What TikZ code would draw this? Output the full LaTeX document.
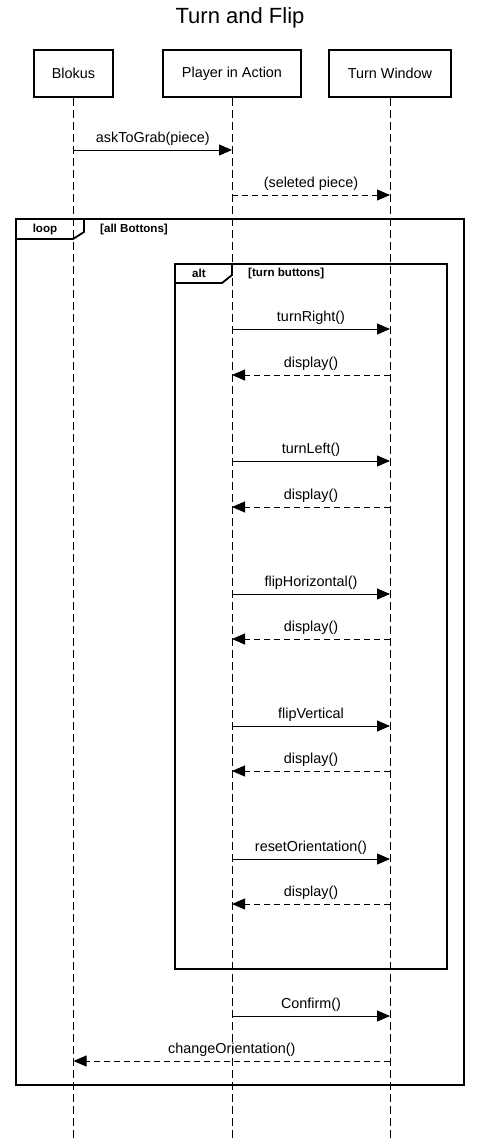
\documentclass[tikz,border=0pt]{standalone}
\usepackage{fontspec}
\setmainfont{Liberation Sans}
\usetikzlibrary{arrows.meta}
\begin{document}
\begin{tikzpicture}[x=1pt,y=-1pt,
  actor/.style={draw,line width=1.8pt,minimum width=#1,minimum height=47pt,inner sep=0pt,font=\fontsize{14.4}{16}\selectfont},
  lifeline/.style={line width=0.9pt,dash pattern=on 8pt off 4pt},
  frame/.style={draw,line width=1.8pt},
  msg/.style={line width=0.9pt,-{Triangle[length=13pt,width=11pt]}},
  ret/.style={msg,dash pattern=on 6pt off 4pt},
  lbl/.style={font=\fontsize{14.4}{16}\selectfont,inner sep=0pt},
  flbl/.style={font=\bfseries\fontsize{11.6}{13}\selectfont,inner sep=0pt,anchor=base}]
\useasboundingbox (0,0) rectangle (480,1142);
\node[font=\fontsize{22}{24}\selectfont] (title) at (240,18) {Turn and Flip};
\node[actor=79pt] (B) at (73.5,73.5) {Blokus};
\node[actor=138pt] (P) at (232,73.5) {Player in Action};
\node[actor=122pt] (T) at (390,73.5) {Turn Window};
\coordinate (Be) at (73.5,1142);
\coordinate (Pe) at (232,1142);
\coordinate (Te) at (390,1142);
\draw[lifeline] (B.south) -- (Be);
\draw[lifeline] (P.south) -- (Pe);
\draw[lifeline] (T.south) -- (Te);
% loop frame
\draw[frame] (16,219) rectangle (464,1085);
\draw[frame] (16,239) -- (73,239) -- (84,232) -- (84,219);
\node[flbl] (looplbl) at (45,232) {loop};
\node[flbl,anchor=base west] (loopcond) at (100,232) {[all Bottons]};
% alt frame
\draw[frame] (175,264) rectangle (447,969);
\draw[frame] (175,283) -- (222,283) -- (232,275) -- (232,264);
\node[flbl] (altlbl) at (199,277) {alt};
\node[flbl,anchor=base west] (altcond) at (248,276) {[turn buttons]};
% messages
\foreach \n/\y in {a/150,b/195,c/329,d/375,e/461,f/507,g/594,h/639,i/726,j/771,k/859,l/904,m/1016,n/1061}{
  \coordinate (B\n) at (73.5,\y);
  \coordinate (P\n) at (232,\y);
  \coordinate (T\n) at (390,\y);
}
\draw[msg] (Ba) -- (Pa) node[lbl,midway,above=4pt] {askToGrab(piece)};
\draw[ret] (Pb) -- (Tb) node[lbl,midway,above=4pt] {(seleted piece)};
\draw[msg] (Pc) -- (Tc) node[lbl,midway,above=4pt] {turnRight()};
\draw[ret] (Td) -- (Pd) node[lbl,midway,above=4pt] {display()};
\draw[msg] (Pe) -- (Te) node[lbl,midway,above=4pt] {turnLeft()};
\draw[ret] (Tf) -- (Pf) node[lbl,midway,above=4pt] {display()};
\draw[msg] (Pg) -- (Tg) node[lbl,midway,above=4pt] {flipHorizontal()};
\draw[ret] (Th) -- (Ph) node[lbl,midway,above=4pt] {display()};
\draw[msg] (Pi) -- (Ti) node[lbl,midway,above=4pt] {flipVertical};
\draw[ret] (Tj) -- (Pj) node[lbl,midway,above=4pt] {display()};
\draw[msg] (Pk) -- (Tk) node[lbl,midway,above=4pt] {resetOrientation()};
\draw[ret] (Tl) -- (Pl) node[lbl,midway,above=4pt] {display()};
\draw[msg] (Pm) -- (Tm) node[lbl,midway,above=4pt] {Confirm()};
\draw[ret] (Tn) -- (Bn) node[lbl,midway,above=4pt] {changeOrientation()};
\end{tikzpicture}
\end{document}
